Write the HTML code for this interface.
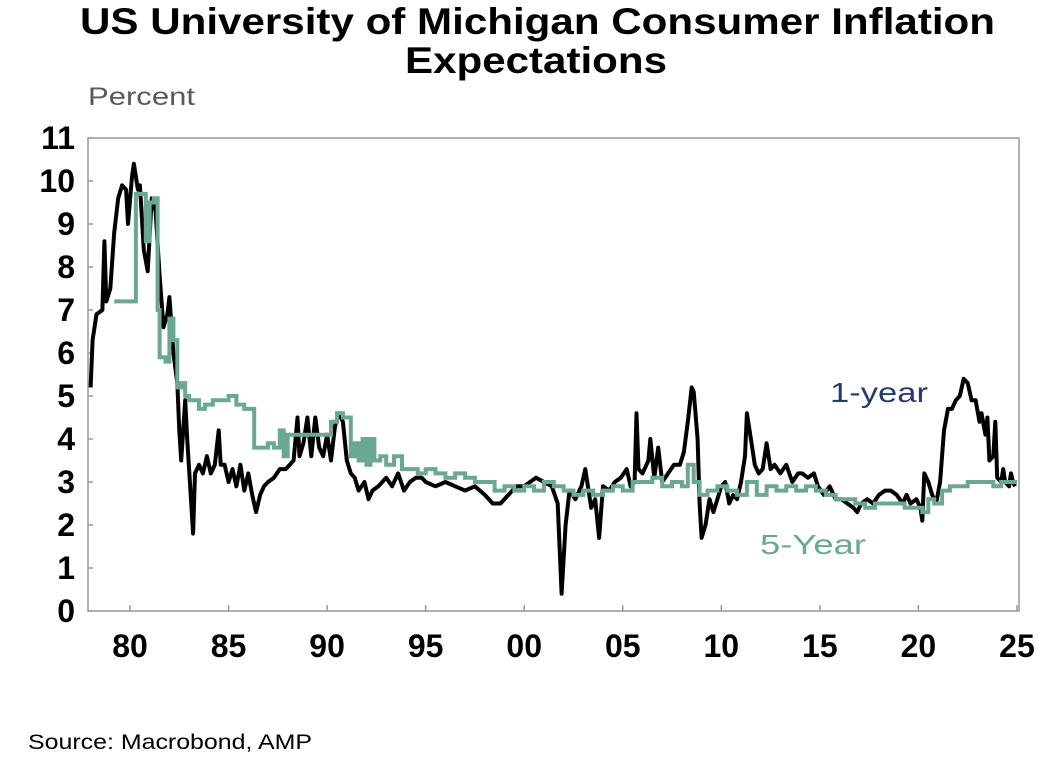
<!DOCTYPE html>
<html><head><meta charset="utf-8"><style>
body{margin:0;background:#fff;width:1056px;height:774px;overflow:hidden;font-family:"Liberation Sans",sans-serif}
</style></head><body>
<svg width="1056" height="774">
<text x="80" y="34" textLength="915" lengthAdjust="spacingAndGlyphs" font-size="37" font-weight="bold" fill="#000">US University of Michigan Consumer Inflation</text>
<text x="405" y="73" textLength="262" lengthAdjust="spacingAndGlyphs" font-size="37" font-weight="bold" fill="#000">Expectations</text>
<text x="88" y="105" textLength="107" lengthAdjust="spacingAndGlyphs" font-size="25" fill="#595959">Percent</text>
<rect x="88" y="138" width="931" height="473" fill="none" stroke="#999" stroke-width="1.5"/>
<g id="axes"></g>
<g id="series"></g>
<text x="830" y="402" textLength="98" lengthAdjust="spacingAndGlyphs" font-size="28" fill="#243b6b">1-year</text>
<text x="760" y="554" textLength="106" lengthAdjust="spacingAndGlyphs" font-size="28" fill="#6aa893">5-Year</text>
<text x="28" y="749" textLength="284" lengthAdjust="spacingAndGlyphs" font-size="21" fill="#000">Source: Macrobond, AMP</text>
</svg>
<script>
const oneYearDates=[1978.0,1978.1,1978.3,1978.6,1978.7,1978.8,1979.0,1979.2,1979.4,1979.6,1979.8,1979.9,1980.1,1980.2,1980.4,1980.5,1980.7,1980.9,1981.1,1981.3,1981.5,1981.7,1981.9,1982.0,1982.2,1982.4,1982.5,1982.6,1982.8,1982.9,1983.0,1983.2,1983.3,1983.5,1983.7,1983.9,1984.1,1984.3,1984.5,1984.6,1984.8,1985.0,1985.2,1985.4,1985.6,1985.8,1986.0,1986.2,1986.4,1986.6,1986.8,1987.0,1987.3,1987.6,1987.9,1988.1,1988.3,1988.5,1988.6,1988.8,1989.0,1989.2,1989.4,1989.6,1989.8,1990.0,1990.2,1990.4,1990.6,1990.8,1991.0,1991.2,1991.4,1991.6,1991.9,1992.1,1992.3,1992.6,1993.0,1993.3,1993.6,1993.9,1994.2,1994.5,1994.8,1995.0,1995.5,1996.0,1996.5,1997.0,1997.5,1998.0,1998.4,1998.8,1999.2,1999.6,2000.0,2000.3,2000.6,2001.0,2001.4,2001.7,2001.9,2002.1,2002.3,2002.6,2002.9,2003.1,2003.4,2003.6,2003.8,2004.0,2004.3,2004.6,2004.9,2005.2,2005.4,2005.6,2005.7,2005.8,2006.0,2006.3,2006.4,2006.6,2006.8,2007.0,2007.3,2007.6,2007.9,2008.1,2008.3,2008.5,2008.6,2008.8,2008.9,2009.0,2009.2,2009.4,2009.6,2009.8,2010.0,2010.2,2010.4,2010.6,2010.8,2011.0,2011.2,2011.3,2011.5,2011.7,2011.9,2012.1,2012.3,2012.5,2012.7,2013.0,2013.3,2013.6,2013.9,2014.1,2014.4,2014.7,2014.9,2015.2,2015.5,2015.8,2016.1,2016.4,2016.7,2016.9,2017.1,2017.4,2017.7,2018.0,2018.3,2018.6,2018.9,2019.2,2019.4,2019.6,2019.9,2020.1,2020.2,2020.3,2020.5,2020.7,2020.9,2021.1,2021.3,2021.5,2021.7,2021.9,2022.1,2022.3,2022.5,2022.7,2022.9,2023.1,2023.2,2023.4,2023.5,2023.6,2023.8,2023.9,2024.0,2024.2,2024.3,2024.4,2024.6,2024.7,2024.8,2024.9];
const oneYearValues=[5.2,6.3,6.9,7.0,8.6,7.2,7.5,8.8,9.6,9.9,9.8,9.0,10.1,10.4,9.8,9.9,8.4,7.9,9.6,9.3,7.8,6.6,6.9,7.3,6.0,5.3,4.2,3.5,4.9,4.0,3.3,1.8,3.2,3.4,3.2,3.6,3.2,3.4,4.2,3.4,3.4,3.0,3.3,2.9,3.4,2.8,3.2,2.7,2.3,2.7,2.9,3.0,3.1,3.3,3.3,3.4,3.5,4.5,3.6,3.9,4.5,3.6,4.5,3.8,3.6,4.1,3.5,4.3,4.6,4.4,3.5,3.2,3.1,2.8,3.0,2.6,2.8,2.9,3.1,2.9,3.2,2.8,3.0,3.1,3.1,3.0,2.9,3.0,2.9,2.8,2.9,2.7,2.5,2.5,2.7,2.9,2.9,3.0,3.1,3.0,2.9,2.5,0.4,2.0,2.8,2.6,2.9,3.3,2.4,2.6,1.7,2.9,2.8,3.0,3.1,3.3,2.9,3.0,4.6,3.3,3.2,3.5,4.0,3.1,3.8,3.0,3.2,3.4,3.4,3.7,4.4,5.2,5.1,4.0,2.5,1.7,2.0,2.6,2.3,2.6,2.9,3.0,2.5,2.7,2.6,3.0,3.6,4.6,4.0,3.4,3.2,3.3,3.9,3.3,3.4,3.2,3.4,3.0,3.2,3.2,3.1,3.2,2.9,2.7,2.9,2.6,2.6,2.5,2.4,2.3,2.5,2.6,2.5,2.7,2.8,2.8,2.7,2.5,2.7,2.5,2.6,2.4,2.1,3.2,3.0,2.7,2.5,3.0,4.2,4.7,4.7,4.9,5.0,5.4,5.3,4.9,4.9,4.4,4.6,4.1,4.5,3.5,3.6,4.4,3.1,3.0,3.3,3.0,2.9,3.2,3.0,2.9];
const fiveYearDates=[1979.2,1980.3,1980.7,1980.8,1981.0,1981.2,1981.4,1981.5,1981.8,1982.0,1982.2,1982.4,1982.6,1982.8,1983.0,1983.3,1983.5,1983.8,1984.2,1984.5,1985.0,1985.4,1985.8,1986.2,1986.3,1986.7,1987.0,1987.3,1987.6,1987.8,1988.0,1988.5,1989.0,1989.5,1990.0,1990.2,1990.5,1990.8,1991.2,1991.4,1991.6,1991.8,1992.0,1992.2,1992.4,1992.7,1993.0,1993.4,1993.8,1994.2,1994.6,1995.0,1995.5,1996.0,1996.5,1997.0,1997.5,1998.0,1998.5,1999.0,1999.5,2000.0,2000.5,2001.0,2001.5,2002.0,2002.5,2003.0,2003.5,2004.0,2004.5,2005.0,2005.5,2006.0,2006.5,2007.0,2007.5,2008.0,2008.3,2008.6,2008.9,2009.3,2009.8,2010.3,2010.8,2011.3,2011.8,2012.3,2012.8,2013.3,2013.8,2014.3,2014.8,2015.3,2015.8,2016.3,2016.8,2017.3,2017.8,2018.3,2018.8,2019.3,2019.8,2020.2,2020.5,2020.8,2021.2,2021.6,2022.0,2022.5,2023.0,2023.5,2023.8,2024.2,2024.6,2024.9];
const fiveYearValues=[7.2,9.7,9.7,8.6,9.5,9.6,7.0,5.9,5.8,6.8,6.3,5.2,5.3,5.0,4.9,4.9,4.7,4.8,4.9,4.9,5.0,4.8,4.7,4.7,3.8,3.8,3.9,3.8,4.2,3.6,4.1,4.1,4.1,4.1,4.1,4.4,4.6,4.5,3.6,3.9,3.5,4.0,3.4,4.0,3.5,3.6,3.4,3.6,3.3,3.3,3.2,3.3,3.2,3.1,3.2,3.1,3.0,3.0,2.8,2.9,2.8,2.9,2.8,3.0,2.9,2.8,2.7,2.8,2.7,2.8,2.9,2.8,3.0,3.0,3.1,2.9,3.0,2.9,3.4,3.0,2.7,2.8,2.9,2.8,2.7,3.0,2.7,2.9,2.8,2.9,2.8,2.9,2.8,2.7,2.6,2.6,2.5,2.4,2.5,2.5,2.5,2.4,2.4,2.3,2.6,2.5,2.8,2.9,2.9,3.0,3.0,3.0,2.9,3.0,3.0,3.0];
const yTicks=[0,1,2,3,4,5,6,7,8,9,10,11];
const xTickYears=[1980,1985,1990,1995,2000,2005,2010,2015,2020,2025];
const xTickLabels=["80","85","90","95","00","05","10","15","20","25"];
const NS="http://www.w3.org/2000/svg";
const x=yr=>130+(yr-1980)*19.71;
const y=v=>611-v*43;
const axes=document.getElementById('axes'), series=document.getElementById('series');
function mk(tag,attrs,parent){const e=document.createElementNS(NS,tag);for(const k in attrs)e.setAttribute(k,attrs[k]);parent.appendChild(e);return e;}
yTicks.forEach(v=>{
  const t=mk('line',{x1:88,x2:93,y1:y(v),y2:y(v),stroke:'#999','stroke-width':1.5},axes);
  
  
  const l=mk('text',{x:75,y:y(v)+11,'text-anchor':'end','font-size':32,'font-weight':'bold'},axes);
  l.textContent=v;
  
  
});
xTickYears.forEach((yr,i)=>{
  const t=mk('line',{x1:x(yr),x2:x(yr),y1:611,y2:605,stroke:'#999','stroke-width':1.5},axes);
  
  
  const l=mk('text',{x:x(yr),y:657,'text-anchor':'middle','font-size':32,'font-weight':'bold'},axes);
  l.textContent=xTickLabels[i];
  
  
});
let d1=oneYearDates.map((t,i)=>(i?'L':'M')+x(t).toFixed(1)+','+y(oneYearValues[i]).toFixed(1)).join('');
const p1=mk('path',{d:d1,fill:'none',stroke:'#000','stroke-width':4,'stroke-linejoin':'round'},series);


let d5='M'+x(fiveYearDates[0]).toFixed(1)+','+y(fiveYearValues[0]).toFixed(1);
for(let i=1;i<fiveYearDates.length;i++){d5+='H'+x(fiveYearDates[i]).toFixed(1)+'V'+y(fiveYearValues[i]).toFixed(1);}
d5+='H'+x(2025.0).toFixed(1);
const p5=mk('path',{d:d5,fill:'none',stroke:'#6aa893','stroke-width':4},series);


</script>
</body></html>
